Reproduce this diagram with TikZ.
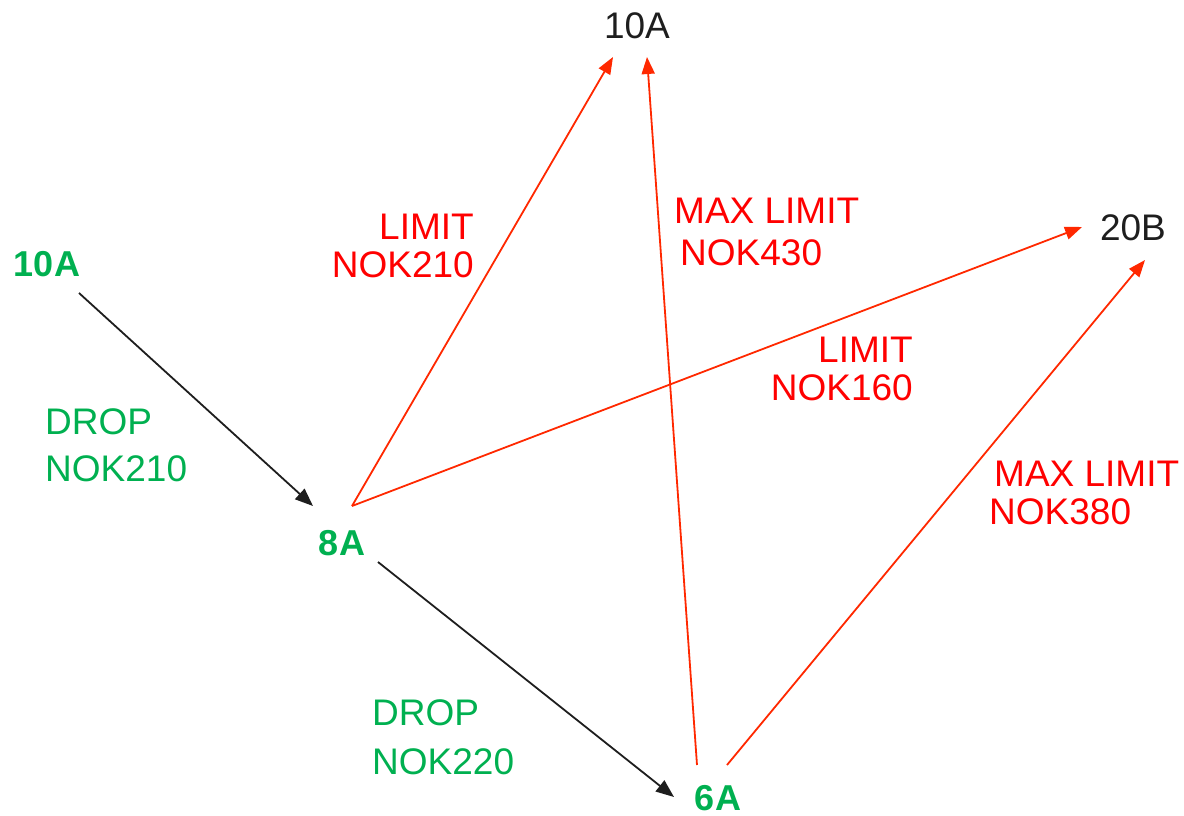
\documentclass[tikz,border=0pt]{standalone}
\usepackage{fontspec}
\setmainfont{Liberation Sans}
\usetikzlibrary{arrows.meta}
\definecolor{nokgreen}{RGB}{0,176,80}
\definecolor{nokred}{RGB}{255,0,0}
\definecolor{linered}{RGB}{255,40,0}
\definecolor{linedark}{RGB}{30,30,30}

\begin{document}
\begin{tikzpicture}[x=1pt,y=-1pt,
  amountnode/.style={inner sep=0pt,text=nokgreen,font=\fontsize{36}{39}\selectfont\bfseries},
  targetnode/.style={inner sep=0pt,text=linedark,font=\fontsize{37}{39}\selectfont},
  droplabel/.style={inner sep=0pt,align=left,anchor=north west,text=nokgreen,font=\fontsize{37}{47}\selectfont},
  limitlabel/.style={inner sep=0pt,text=nokred,font=\fontsize{37}{38}\selectfont},
  droparrow/.style={-{Triangle[length=18pt,width=14pt]},line width=1.8pt,draw=linedark},
  limitarrow/.style={-{Triangle[length=17pt,width=13pt]},line width=1.8pt,draw=linered}]
\useasboundingbox (0,0) rectangle (1184,815);
% amounts
\node[amountnode] (g10) at (47,264) {10A};
\node[amountnode] (g8) at (342,543) {8A};
\node[amountnode] (g6) at (718,798) {6A};
% targets
\node[targetnode] (t10) at (637,26) {10A};
\node[targetnode] (b20) at (1133,228) {20B};
% labels
\node[droplabel] (drop210) at (45,408) {DROP\\NOK210};
\node[droplabel,font=\fontsize{37}{49}\selectfont] (drop220) at (372,699) {DROP\\NOK220};
\node[limitlabel,align=right,anchor=north east] (lim210) at (474,214) {LIMIT\\NOK210};
\node[limitlabel,align=left,anchor=north west,font=\fontsize{37}{42}\selectfont] (max430) at (674,198) {MAX LIMIT\\\hspace*{6pt}NOK430};
\node[limitlabel,align=right,anchor=north east] (lim160) at (913,337) {LIMIT\\NOK160};
\node[limitlabel,align=left,anchor=north west] (max380) at (989,461) {\hspace*{5pt}MAX LIMIT\\NOK380};
% drops
\draw[droparrow] ([shift={(32,29)}]g10.center) -- ([shift={(-29,-37)}]g8.center);
\draw[droparrow] ([shift={(36,19)}]g8.center) -- ([shift={(-44,-1)}]g6.center);
% limits
\draw[limitarrow] ([shift={(10,-37)}]g8.center) -- ([shift={(-24,31)}]t10.center);
\draw[limitarrow] ([shift={(10,-37)}]g8.center) -- ([shift={(-51,-1)}]b20.center);
\draw[limitarrow] ([shift={(-21,-33)}]g6.center) -- ([shift={(10,31)}]t10.center);
\draw[limitarrow] ([shift={(9,-33)}]g6.center) -- ([shift={(12,32)}]b20.center);
\end{tikzpicture}
\end{document}
